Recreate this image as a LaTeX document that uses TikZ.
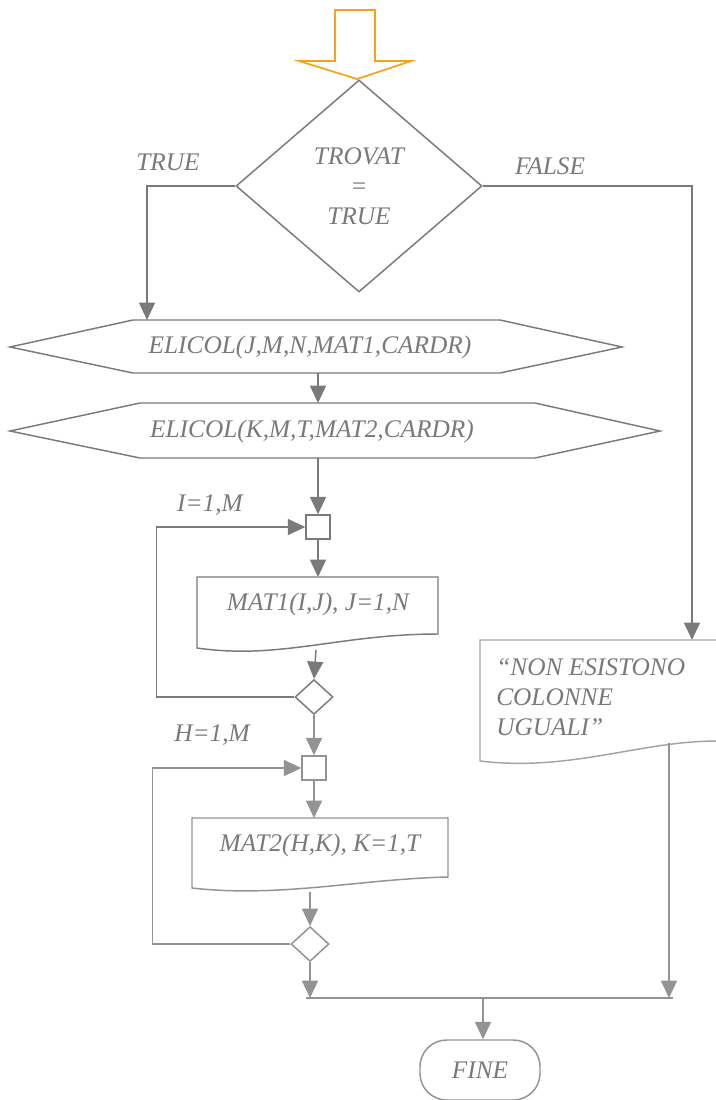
\documentclass[tikz,border=0pt]{standalone}
\usepackage{fontspec}
\setmainfont{Liberation Serif}
\usetikzlibrary{arrows.meta,shapes.geometric}
\definecolor{lnA}{HTML}{7A7A7A}
\definecolor{lnB}{HTML}{939393}
\definecolor{lnC}{HTML}{A3A3A3}
\definecolor{txt}{HTML}{797979}
\definecolor{orng}{HTML}{F7A21B}
\begin{document}
\begin{tikzpicture}[x=0.75pt,y=-0.75pt,
  every node/.style={font=\fontsize{19}{22.5}\selectfont\itshape, text=txt},
  lbl/.style={inner sep=0pt},
  outline/.style={draw=#1, line width=1.1pt},
  outline/.default=lnA,
  flow/.style={draw=#1, line width=1.1pt, -{Triangle[width=12pt,length=13pt,fill=#1]}},
  flow/.default=lnA,
  joinbox/.style={draw=#1, line width=1.1pt, rectangle, minimum size=18pt, inner sep=0pt},
  joinbox/.default=lnA,
  testbox/.style={draw=#1, line width=1.1pt, diamond, minimum width=28.5pt, minimum height=26pt, inner sep=0pt},
  testbox/.default=lnA]
\useasboundingbox (0,0) rectangle (715,1100);

% entry arrow
\draw[orng, line width=1.3pt, line join=miter]
  (335,10) -- (375,10) -- (375,61) -- (411,61) -- (357,79) -- (299,61) -- (335,61) -- cycle;

% decision
\node[diamond, draw=lnA, line width=1.1pt, minimum width=184.5pt, minimum height=159pt,
      inner sep=0pt, align=center] (dec) at (359,186) {TROVAT\\=\\TRUE};
\node[lbl] (ltrue) at (168,162) {TRUE};
\node[lbl] (lfalse) at (550,166) {FALSE};

% subroutine calls
\draw[outline] (10,347) -- (133,320) -- (500,320) -- (622,347) -- (500,373) -- (133,373) -- cycle;
\node[lbl] (call1) at (310,347) {ELICOL(J,M,N,MAT1,CARDR)};
\draw[outline] (10,431) -- (140,403) -- (535,403) -- (660,431) -- (535,458) -- (140,458) -- cycle;
\node[lbl] (call2) at (312,431) {ELICOL(K,M,T,MAT2,CARDR)};
\coordinate (c1in) at (147,320);
\coordinate (c1out) at (318,373);
\coordinate (c2in) at (318,403);
\coordinate (c2out) at (318,458);

\draw[flow] (dec.west) -| (c1in);
\draw[flow] (c1out) -- (c2in);

% first loop
\node[joinbox] (sq1) at (318,527) {};
\node[lbl] (li) at (210,505) {I=1,M};
\draw[flow] (c2out) -- (sq1.north);
\draw[outline] (197,577) -- (438,577) -- (438,634)
  .. controls (340,634) and (280,660) .. (197,648) -- cycle;
\node[lbl] (out1) at (318,604) {MAT1(I,J), J=1,N};
\coordinate (o1in) at (318,577);
\coordinate (o1out) at (316,650);
\draw[flow] (sq1.south) -- (o1in);
\node[testbox] (t1) at (314,697) {};
\draw[flow] (o1out) -- (t1.north);
\draw[flow] (t1.west) -- ++(-138,0) |- (sq1.west);

% second loop
\node[joinbox=lnB] (sq2) at (314,768) {};
\node[lbl] (lh) at (212,735) {H=1,M};
\draw[flow=lnB] (t1.south) -- (sq2.north);
\draw[outline=lnB] (192,818) -- (448,818) -- (448,877)
  .. controls (360,879) and (280,898) .. (192,888) -- cycle;
\node[lbl] (out2) at (320,845) {MAT2(H,K), K=1,T};
\coordinate (o2in) at (314,818);
\coordinate (o2out) at (310,892);
\draw[flow=lnB] (sq2.south) -- (o2in);
\node[testbox=lnB] (t2) at (310,944) {};
\draw[flow=lnB] (o2out) -- (t2.north);
\draw[flow=lnB] (t2.west) -- ++(-138,0) |- (sq2.west);

% message on the false branch
\coordinate (o3in) at (692,640);
\draw[flow] (dec.east) -| (o3in);
\draw[outline=lnC] (480,640) -- (717,640) -- (717,741)
  .. controls (640,741) and (570,772) .. (480,761) -- cycle;
\node[lbl, anchor=west, align=left] (out3) at (496,697) {“NON ESISTONO\\COLONNE\\UGUALI”};
\coordinate (o3out) at (669,743);

% merge and end
\coordinate (mL) at (310,998);
\coordinate (mR) at (669,998);
\coordinate (mC) at (483,998);
\draw[flow=lnB] (t2.south) -- (mL);
\draw[flow=lnB] (o3out) -- (mR);
\draw[outline=lnB] (306,998) -- (673,998);
\node[draw=lnB, line width=1.1pt, rounded corners=20pt, minimum width=90pt, minimum height=45pt,
      inner sep=0pt] (fine) at (480,1070) {FINE};
\draw[flow=lnB] (mC) -- (fine.north -| mC);
\end{tikzpicture}
\end{document}
